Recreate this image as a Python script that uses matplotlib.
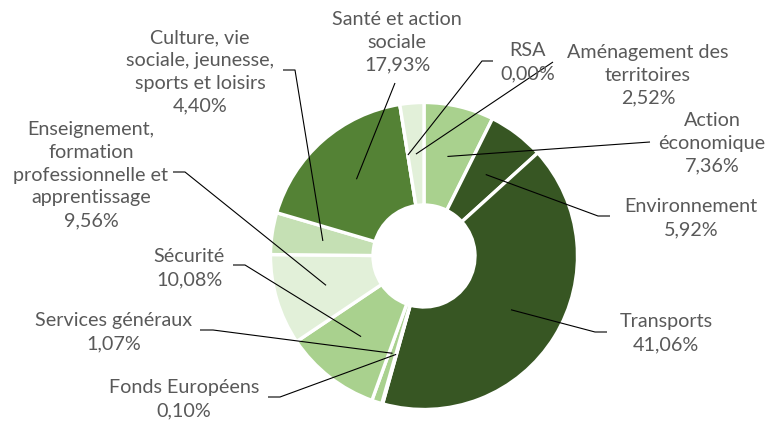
import matplotlib
matplotlib.use("Agg")
import matplotlib.pyplot as plt
import numpy as np

categories = ["Action\néconomique", "Environnement", "Transports", "Fonds Européens",
              "Services généraux", "Sécurité",
              "Enseignement,\nformation\nprofessionnelle et\napprentissage",
              "Culture, vie\nsociale, jeunesse,\nsports et loisirs",
              "Santé et action\nsociale", "RSA", "Aménagement des\nterritoires"]
shares = [7.36, 5.92, 41.06, 0.10, 1.07, 10.08, 9.56, 4.40, 17.93, 0.00, 2.52]

colors = ["#A9D18E", "#375623", "#375623", "#A9D18E", "#A9D18E", "#A9D18E",
          "#E2F0D9", "#C5E0B4", "#548235", "#E2F0D9", "#E2F0D9"]

# label layout in pixels (x from left, y from top)
label_pos = [(712, 143), (691, 218), (666, 333), (184, 399), (114, 332), (189, 268),
             (91, 175), (200, 72), (397, 42), (528, 62), (648, 75)]
line_start = [(650, 142), (610, 216), (607, 332), (268, 397), (200, 330), (233, 265),
              (173, 172), (283, 70), (395, 83), (493, 61), (553, 62)]
line_elbow = [None, (598, 216), (595, 332), (280, 397), (213, 330), (245, 265),
              (185, 172), (295, 70), None, (482, 61), None]

W, H = 765, 425
cx, cy = 424, H - 256
R, r_in = 153.5, 51

fig = plt.figure(figsize=(W / 100, H / 100), dpi=100)
ax = fig.add_axes([0, 0, 1, 1])
ax.set_xlim(0, W)
ax.set_ylim(0, H)
ax.axis("off")

wedges, _ = ax.pie(shares, colors=colors, startangle=90, counterclock=False,
                   center=(cx, cy), radius=R, normalize=True,
                   wedgeprops=dict(width=R - r_in, edgecolor="white", linewidth=2.4))
ax.set_xlim(0, W)
ax.set_ylim(0, H)
ax.set_aspect("equal")

r_mid = (R + r_in) / 2
for w, name, val, pos, start, elbow in zip(wedges, categories, shares,
                                           label_pos, line_start, line_elbow):
    ang = np.deg2rad((w.theta1 + w.theta2) / 2)
    end = (cx + r_mid * np.cos(ang), cy + r_mid * np.sin(ang))
    pts = [(start[0], H - start[1])]
    if elbow is not None:
        pts.append((elbow[0], H - elbow[1]))
    pts.append(end)
    xs, ys = zip(*pts)
    ax.plot(xs, ys, color="black", lw=0.8, solid_capstyle="butt")
    txt = name + "\n" + f"{val:.2f}".replace(".", ",") + "%"
    ax.text(pos[0], H - pos[1], txt, ha="center", va="center", fontsize=14.2,
            family="Lato", color="#595959", linespacing=1.42)

fig.savefig("out.png", dpi=100)
